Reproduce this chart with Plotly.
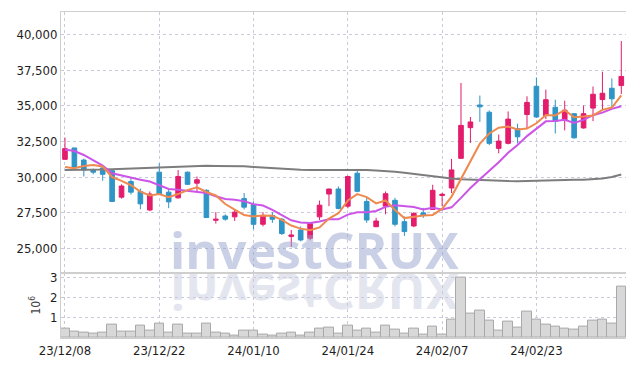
import base64
import plotly.graph_objects as go

dates = [
    "23/12/08", "23/12/11", "23/12/12", "23/12/13", "23/12/14", "23/12/15",
    "23/12/18", "23/12/19", "23/12/20", "23/12/21", "23/12/22", "23/12/26",
    "23/12/27", "23/12/28", "24/01/02", "24/01/03", "24/01/04", "24/01/05",
    "24/01/08", "24/01/09", "24/01/10", "24/01/11", "24/01/12", "24/01/15",
    "24/01/16", "24/01/17", "24/01/18", "24/01/19", "24/01/22", "24/01/23",
    "24/01/24", "24/01/25", "24/01/26", "24/01/29", "24/01/30", "24/01/31",
    "24/02/01", "24/02/02", "24/02/05", "24/02/06", "24/02/07", "24/02/08",
    "24/02/13", "24/02/14", "24/02/15", "24/02/16", "24/02/19", "24/02/20",
    "24/02/21", "24/02/22", "24/02/23", "24/02/26", "24/02/27", "24/02/28",
    "24/02/29", "24/03/04", "24/03/05", "24/03/06", "24/03/07", "24/03/08",
]

open_ = [31250, 32050, 31200, 30500, 30650, 30450, 28600, 29700, 29000, 27700,
         30350, 28950, 28550, 30350, 29580, 29080, 26980, 27280, 27220, 28500,
         28080, 26700, 27320, 27050, 25850, 26300, 25720, 27220, 28820, 29170,
         27970, 30280, 28300, 26530, 27970, 28380, 26880, 26580, 27500, 27740,
         28720, 29240, 31320, 33470, 35060, 34550, 32020, 32370, 33400, 34390,
         36370, 34320, 34900, 34000, 34450, 33450, 34840, 35440, 36230, 36420]
high = [32780, 32050, 31300, 30600, 30850, 30550, 29500, 29950, 29200, 29000,
        30970, 29150, 30500, 30400, 30050, 29150, 27550, 27400, 27740, 28890,
        28300, 27550, 27550, 27150, 26300, 26550, 26750, 28360, 29200, 29350,
        30100, 30450, 28540, 27150, 29000, 28550, 27250, 27550, 27850, 29470,
        28900, 31280, 36600, 34220, 35720, 34680, 32990, 34610, 33750, 35670,
        36990, 36140, 35430, 35360, 34500, 35020, 36350, 37390, 36920, 39540]
low = [31250, 30650, 30050, 30200, 29750, 28250, 28500, 28780, 27750, 27620,
       28800, 27830, 28500, 29450, 29000, 27150, 26750, 26950, 26930, 27740,
       26350, 26550, 26800, 25950, 25100, 25500, 25580, 27000, 27970, 27750,
       27820, 28950, 26800, 26500, 27400, 26550, 25880, 26500, 27150, 27700,
       27970, 28890, 31320, 32400, 33870, 32250, 31670, 32300, 32360, 33400,
       34150, 34070, 33060, 33280, 32700, 33400, 33930, 34680, 34910, 35830]
close = [32000, 30700, 30500, 30350, 30200, 28300, 29380, 28950, 28130, 28820,
         28820, 28270, 30050, 29500, 29820, 27170, 27050, 27060, 27550, 27900,
         26700, 27320, 27050, 26050, 25950, 25600, 26750, 28040, 29170, 27810,
         30050, 29010, 27000, 26930, 28840, 26700, 26190, 27460, 27350, 29080,
         28800, 30510, 33630, 33870, 34930, 32370, 32530, 34070, 32830, 35240,
         34220, 35430, 33910, 34700, 32760, 34450, 35810, 35880, 35490, 37060]

ma5 = [30720, 30620, 30790, 30850, 30750, 30010, 29746, 29436, 28992, 28716,
       28820, 28598, 28818, 29092, 29292, 28962, 28718, 28120, 27730, 27346,
       27252, 27306, 27304, 27004, 26614, 26394, 26280, 26478, 27102, 27474,
       28364, 28816, 28608, 28160, 28366, 27696, 27132, 27224, 27308, 27356,
       27776, 28640, 29874, 31178, 32348, 33062, 33466, 33554, 33346, 33408,
       33778, 34358, 34326, 34700, 34204, 34250, 34326, 34720, 34878, 35738]
ma10 = [31945, 31834, 31556, 31209, 30813, 30278, 30118, 30000, 29820, 29700,
        29415, 29172, 29127, 29042, 29004, 28891, 28658, 28469, 28411, 28319,
        28107, 28012, 27712, 27367, 26980, 26823, 26793, 26891, 27053, 27044,
        27379, 27548, 27543, 27631, 27920, 28030, 27974, 27916, 27734, 27861,
        27736, 27886, 28549, 29243, 29852, 30419, 31053, 31714, 32262, 32878,
        33420, 33912, 33940, 34023, 33806, 34014, 34342, 34523, 34789, 34971]
ma60 = [30500, 30500, 30500, 30510, 30530, 30555, 30580, 30600, 30640, 30670,
        30710, 30740, 30760, 30790, 30800, 30800, 30790, 30790, 30780, 30760,
        30720, 30670, 30620, 30570, 30530, 30520, 30510, 30510, 30510, 30520,
        30520, 30510, 30500, 30465, 30430, 30375, 30305, 30220, 30130, 30050,
        29980, 29910, 29855, 29820, 29785, 29760, 29740, 29725, 29720, 29740,
        29770, 29800, 29810, 29820, 29825, 29825, 29855, 29910, 30010, 30190]

volume_m = [0.47, 0.32, 0.27, 0.22, 0.27, 0.67, 0.32, 0.32, 0.62, 0.37,
            0.72, 0.27, 0.67, 0.22, 0.22, 0.72, 0.27, 0.22, 0.13, 0.38,
            0.38, 0.18, 0.13, 0.22, 0.27, 0.13, 0.27, 0.47, 0.52, 0.22,
            0.60, 0.38, 0.47, 0.27, 0.63, 0.42, 0.22, 0.47, 0.18, 0.58,
            0.18, 0.93, 2.96, 1.21, 1.36, 0.86, 0.37, 0.81, 0.52, 1.31,
            0.93, 0.67, 0.58, 0.47, 0.42, 0.57, 0.86, 0.91, 0.72, 2.51]

price_ticks = [25000, 27500, 30000, 32500, 35000, 37500, 40000]
volume_ticks = [1, 2, 3]
x_ticks = [dates[i] for i in range(0, 60, 10)]

UP = "#e31c6c"
DN = "#2f94c6"
GRID = "#c9cadb"
FRAME = "#cfcfcf"
FONT = "DejaVu Sans Condensed"
TXT = "#1e1e1e"

fig = go.Figure()
fig.add_trace(go.Candlestick(
    x=dates, open=open_, high=high, low=low, close=close,
    increasing=dict(line=dict(color=UP, width=1), fillcolor=UP),
    decreasing=dict(line=dict(color=DN, width=1), fillcolor=DN),
    whiskerwidth=0, xaxis="x", yaxis="y", hoverinfo="skip",
))
fig.add_trace(go.Scatter(x=dates, y=ma60, mode="lines",
                         line=dict(color="#7d7d7d", width=2), xaxis="x", yaxis="y"))
fig.add_trace(go.Scatter(x=dates, y=ma10, mode="lines",
                         line=dict(color="#cc55e8", width=2), xaxis="x", yaxis="y"))
fig.add_trace(go.Scatter(x=dates, y=ma5, mode="lines",
                         line=dict(color="#ee8a50", width=2), xaxis="x", yaxis="y"))
fig.add_trace(go.Bar(x=dates, y=volume_m, marker=dict(color="#d8d8d8",
                     line=dict(color="#a9a9a9", width=1)), xaxis="x2", yaxis="y2"))

split = 66 / 329

xcommon = dict(type="category", range=[-0.42, 59.5], tickmode="array",
               tickvals=x_ticks, ticktext=x_ticks, showgrid=True,
               gridcolor=GRID, griddash="dot", gridwidth=1, zeroline=False,
               showline=True, linecolor=FRAME, linewidth=1, mirror=True,
               ticks="", tickfont=dict(family=FONT, size=13, color=TXT))

fig.update_layout(
    width=626, height=358,
    margin=dict(l=53, r=8, t=1, b=28),
    paper_bgcolor="white", plot_bgcolor="white",
    showlegend=False, bargap=0,
    xaxis=dict(xcommon, anchor="y", showticklabels=False,
               rangeslider=dict(visible=False)),
    xaxis2=dict(xcommon, anchor="y2", showticklabels=True, matches="x"),
    yaxis=dict(domain=[split, 1], range=[23313, 41576], tickvals=price_ticks,
               tickformat=",", showgrid=True, gridcolor=GRID, griddash="dot",
               zeroline=False, showline=True, linecolor=FRAME, mirror=True,
               ticks="", tickfont=dict(family=FONT, size=13, color=TXT)),
    yaxis2=dict(domain=[0, split], range=[0, 3.22], tickvals=volume_ticks,
                showgrid=True, gridcolor=GRID, griddash="dot", zeroline=False,
                showline=True, linecolor=FRAME, mirror=True, ticks="",
                tickfont=dict(family=FONT, size=13, color=TXT),
                title=dict(text="10<sup>6</sup>", standoff=6,
                           font=dict(family=FONT, size=12, color="#444"))),
)

wm_font = "Open Sans"
fig.add_annotation(
    text="<b>investCRUX</b>", xref="paper", yref="paper",
    x=0.4487, y=split, xanchor="center", yanchor="bottom", yshift=-13,
    showarrow=False,
    font=dict(family=wm_font, size=50, color="rgba(150,162,205,0.5)"),
)

svg = (
    '<svg xmlns="http://www.w3.org/2000/svg" width="600" height="120">'
    '<text x="300" y="-60" text-anchor="middle" transform="scale(1,-1)" '
    'font-family="Open Sans" font-weight="bold" font-size="50" '
    'fill="#e4e6ef">investCRUX</text></svg>'
)
src = "data:image/svg+xml;base64," + base64.b64encode(svg.encode()).decode()
fig.add_layout_image(
    source=src, xref="paper", yref="paper", x=0.4487, y=split,
    sizex=600 / 565, sizey=120 / 329, xanchor="center", yanchor="middle",
    sizing="stretch", layer="below",
)

fig.write_html("out.html")
